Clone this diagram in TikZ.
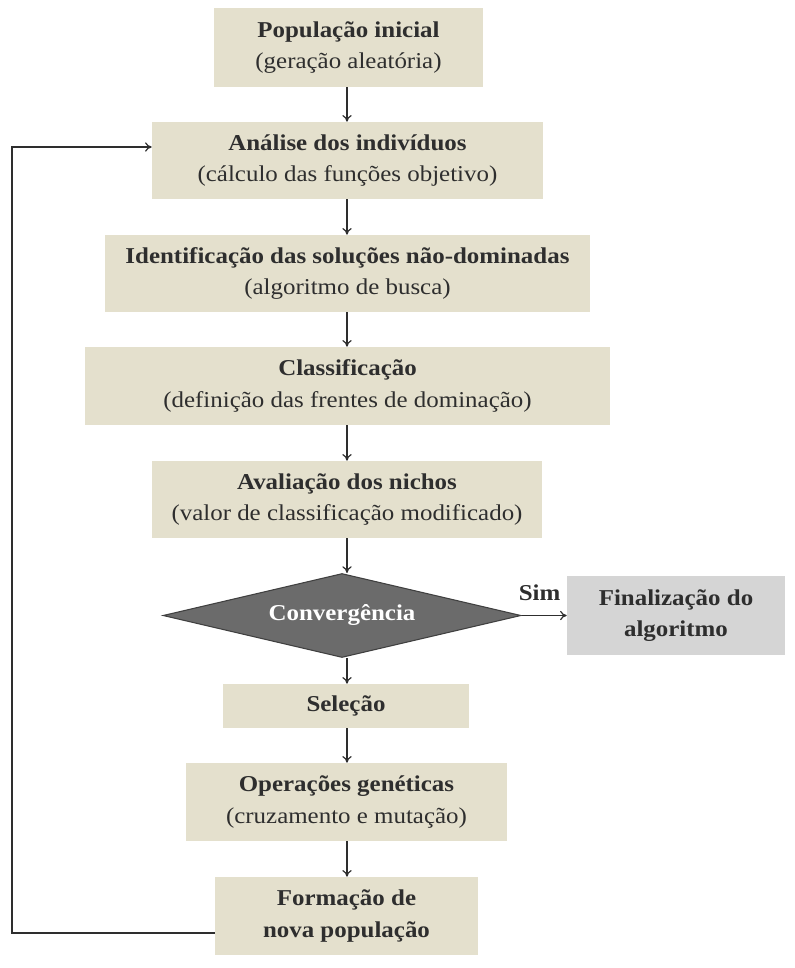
\documentclass[tikz,border=0pt]{standalone}
\usepackage{fontspec}
\setmainfont{Liberation Serif}[FakeStretch=1.1]
\usetikzlibrary{shapes.geometric,arrows.meta}
\definecolor{beige}{HTML}{E4E0CD}
\definecolor{darkgr}{HTML}{6B6B6B}
\definecolor{lightgr}{HTML}{D5D5D5}
\definecolor{txt}{HTML}{2E2E2E}
\begin{document}
\begin{tikzpicture}[x=0.75pt,y=-0.75pt,
  box/.style={fill=beige,draw=none,align=center,inner sep=0pt,font=\fontsize{17}{23.5}\selectfont,text=txt},
  conn/.style={draw=txt,line width=0.9pt,-{To[length=5pt,width=7pt]}}]
\useasboundingbox (0,0) rectangle (794,968);
\node[box,minimum width=269*0.75pt,minimum height=79*0.75pt] (p) at (348.5,47.5) {\textbf{População inicial}\\(geração aleatória)};
\node[box,minimum width=391*0.75pt,minimum height=77*0.75pt] (a) at (347.5,160.5) {\textbf{Análise dos indivíduos}\\(cálculo das funções objetivo)};
\node[box,minimum width=485*0.75pt,minimum height=77*0.75pt] (i) at (347.5,273.5) {\textbf{Identificação das soluções não-dominadas}\\(algoritmo de busca)};
\node[box,minimum width=525*0.75pt,minimum height=78*0.75pt] (c) at (347.5,386) {\textbf{Classificação}\\(definição das frentes de dominação)};
\node[box,minimum width=390*0.75pt,minimum height=77*0.75pt] (v) at (347,499.5) {\textbf{Avaliação dos nichos}\\(valor de classificação modificado)};
\node[diamond,fill=darkgr,draw=black!75,line width=0.8pt,aspect=4.3,minimum width=358*0.75pt,minimum height=84*0.75pt,inner sep=0pt,text=white,font=\fontsize{17}{23.5}\selectfont\bfseries] (d) at (342,615.5) {Convergência};
\node[box,fill=lightgr,minimum width=218*0.75pt,minimum height=79*0.75pt] (f) at (676,615.5) {\textbf{Finalização do}\\\textbf{algoritmo}};
\node[box,minimum width=246*0.75pt,minimum height=44*0.75pt] (s) at (346,706) {\textbf{Seleção}};
\node[box,minimum width=321*0.75pt,minimum height=78*0.75pt] (o) at (346.5,802) {\textbf{Operações genéticas}\\(cruzamento e mutação)};
\node[box,minimum width=263*0.75pt,minimum height=78*0.75pt] (n) at (346.5,916) {\textbf{Formação de}\\\textbf{nova população}};
\coordinate (lb) at (12,933);
\coordinate (lt) at (12,147);
\draw[conn] (p.south -| 347,0) -- (a.north -| 347,0);
\draw[conn] (a.south -| 347,0) -- (i.north -| 347,0);
\draw[conn] (i.south -| 347,0) -- (c.north -| 347,0);
\draw[conn] (c.south -| 347,0) -- (v.north -| 347,0);
\draw[conn] (v.south -| 347,0) -- (d.north -| 347,0);
\draw[conn] (d.east) -- (f.west) node[pos=0.4,above=7pt,font=\fontsize{17}{23.5}\selectfont\bfseries,text=txt] {Sim};
\draw[conn] (d.south -| 347,0) -- (s.north -| 347,0);
\draw[conn] (s.south -| 347,0) -- (o.north -| 347,0);
\draw[conn] (o.south -| 347,0) -- (n.north -| 347,0);
\draw[conn] (n.west |- lb) -- (lb) -- (lt) -- (a.west |- lt);
\end{tikzpicture}
\end{document}
